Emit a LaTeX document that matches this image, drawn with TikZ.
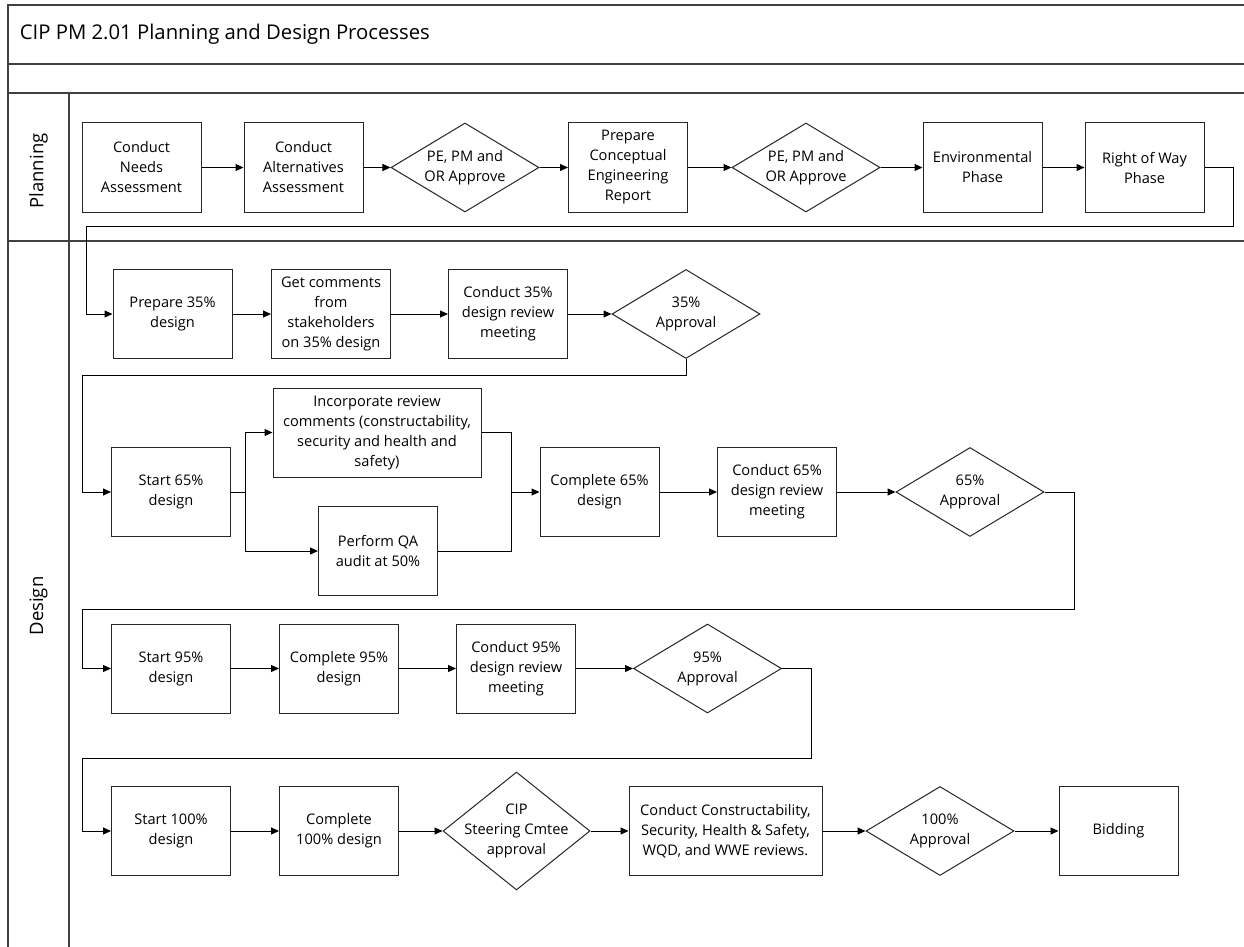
\documentclass[tikz,border=0pt]{standalone}
\usepackage{fontspec}
\setmainfont{Open Sans}
\usepackage {tikz}
\usetikzlibrary{shapes,arrows,arrows.meta,positioning}

\begin{document}
\begin{tikzpicture}[x=1pt, y=-1pt, ->, >={Triangle[length=8pt,width=7pt]},
line width = 1 pt, node distance = 162pt,
font=\fontsize{14.6}{20}\selectfont,
box/.style={rectangle, draw=black!85, fill=white, align=center,
  minimum width=119pt, minimum height=89pt, inner sep=1pt},
choice/.style={diamond, draw=black!85, fill=white, align=center,
  minimum width=148pt, minimum height=89pt, inner sep=-12pt},
lane/.style={-, draw=black!75, line width=1.5pt}]

\useasboundingbox (0,0) rectangle (1244,947);

% pool and lanes
\draw [lane] (8,947) -- (8,5) -- (1244,5);
\draw [lane] (8,64) -- (1244,64);
\draw [lane] (8,93) -- (1244,93);
\draw [lane] (8,241) -- (1244,241);
\draw [lane] (69,93) -- (69,947);
\node [anchor=west, font=\fontsize{20.3}{24}\selectfont] (title) at (16,34.5)
  {CIP PM 2.01 Planning and Design Processes};
\node [rotate=90, font=\fontsize{18.5}{22}\selectfont] (planning) at (38.5,171) {Planning};
\node [rotate=90, font=\fontsize{18.5}{22}\selectfont] (design) at (38.5,606) {Design};

% planning
\node [box] (needs) at (141.5,167.5) {Conduct\\Needs\\Assessment};
\node [box] (alts) [right of=needs] {Conduct\\Alternatives\\Assessment};
\path (needs) edge (alts);
\node [choice] (okone) [right of=alts, node distance=161.5pt] {PE, PM and\\OR Approve};
\path (alts) edge (okone);
\node [box] (report) [right of=okone, node distance=163pt] {Prepare\\Conceptual\\Engineering\\Report};
\path (okone) edge (report);
\node [choice] (oktwo) [right of=report, node distance=178pt] {PE, PM and\\OR Approve};
\path (report) edge (oktwo);
\node [box] (env) [right of=oktwo, node distance=176.5pt] {Environmental\\Phase};
\path (oktwo) edge (env);
\node [box] (row) [right of=env] {Right of Way\\Phase};
\path (env) edge (row);

% 35% design
\node [box] (prep) at (172.5,314) {Prepare 35\%\\design};
\draw (row.east) -- ++(29,0) |- (86,226) |- (prep.west);
\node [box] (comments) [right of=prep, node distance=158.5pt] {Get comments\\from\\stakeholders\\on 35\% design};
\path (prep) edge (comments);
\node [box] (meet35) [right of=comments, node distance=177pt] {Conduct 35\%\\design review\\meeting};
\path (comments) edge (meet35);
\node [choice] (ok35) [right of=meet35, node distance=178pt] {35\%\\Approval};
\path (meet35) edge (ok35);

% 65% design
\node [box] (start65) at (171,492) {Start 65\%\\design};
\draw (ok35.south) |- (82,375) |- (start65.west);
\node [box, minimum width=208pt] (incorp) at (377,432.5) {Incorporate review\\comments (constructability,\\security and health and\\safety)};
\node [box] (qa) at (378,551) {Perform QA\\audit at 50\%};
\coordinate (split) at (245,492);
\coordinate (merge) at (511,492);
\draw [-] (start65.east) -- (split);
\draw (split) |- (incorp.west);
\draw (split) |- (qa.west);
\node [box] (done65) at (599.5,492) {Complete 65\%\\design};
\draw [-] (incorp.east) -| (merge);
\draw [-] (qa.east) -| (merge);
\draw (merge) -- (done65.west);
\node [box] (meet65) [right of=done65, node distance=177.5pt] {Conduct 65\%\\design review\\meeting};
\path (done65) edge (meet65);
\node [choice] (ok65) [right of=meet65, node distance=193pt] {65\%\\Approval};
\path (meet65) edge (ok65);

% 95% design
\node [box] (start95) at (171,668.5) {Start 95\%\\design};
\draw (ok65.east) -- ++(30,0) |- (82,609) |- (start95.west);
\node [box] (done95) [right of=start95, node distance=168pt] {Complete 95\%\\design};
\path (start95) edge (done95);
\node [box] (meet95) [right of=done95, node distance=177pt] {Conduct 95\%\\design review\\meeting};
\path (done95) edge (meet95);
\node [choice] (ok95) [right of=meet95, node distance=191.5pt] {95\%\\Approval};
\path (meet95) edge (ok95);

% 100% design
\node [box] (start100) at (171,831) {Start 100\%\\design};
\draw (ok95.east) -- ++(29,0) |- (82,758) |- (start100.west);
\node [box] (done100) [right of=start100, node distance=168pt] {Complete\\100\% design};
\path (start100) edge (done100);
\node [choice, minimum width=147pt, minimum height=118pt] (cip) [right of=done100, node distance=177.5pt] {CIP\\Steering Cmtee\\approval};
\path (done100) edge (cip);
\node [box, minimum width=193pt] (checks) [right of=cip, node distance=209pt] {Conduct Constructability,\\Security, Health \& Safety,\\WQD, and WWE reviews.};
\path (cip) edge (checks);
\node [choice] (ok100) [right of=checks, node distance=214.5pt] {100\%\\Approval};
\path (checks) edge (ok100);
\node [box] (bid) [right of=ok100, node distance=178.5pt] {Bidding};
\path (ok100) edge (bid);
\end{tikzpicture}
\end{document}
